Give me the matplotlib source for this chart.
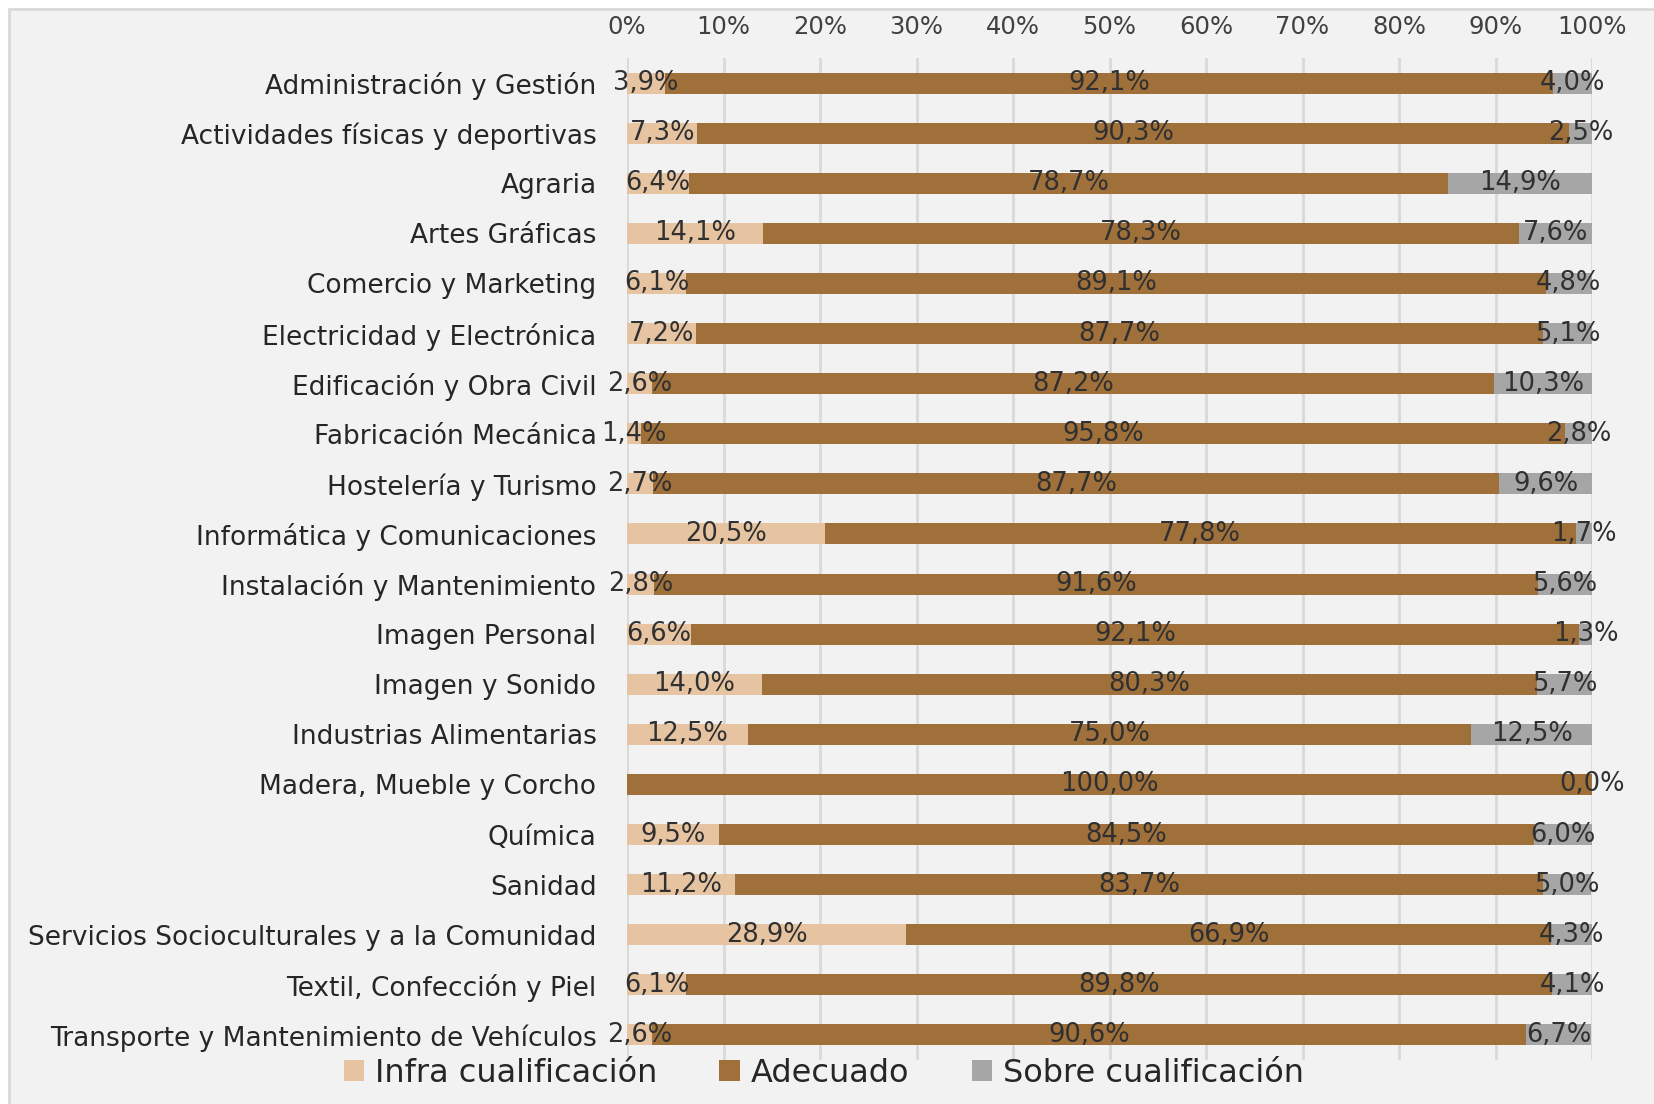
import matplotlib.pyplot as plt
from matplotlib.patches import Rectangle, Patch

familias = ["Administración y Gestión", "Actividades físicas y deportivas", "Agraria",
            "Artes Gráficas", "Comercio y Marketing", "Electricidad y Electrónica",
            "Edificación y Obra Civil", "Fabricación Mecánica", "Hostelería y Turismo",
            "Informática y Comunicaciones", "Instalación y Mantenimiento", "Imagen Personal",
            "Imagen y Sonido", "Industrias Alimentarias", "Madera, Mueble y Corcho",
            "Química", "Sanidad", "Servicios Socioculturales y a la Comunidad",
            "Textil, Confección y Piel", "Transporte y Mantenimiento de Vehículos"]
infra = [3.9, 7.3, 6.4, 14.1, 6.1, 7.2, 2.6, 1.4, 2.7, 20.5,
         2.8, 6.6, 14.0, 12.5, 0.0, 9.5, 11.2, 28.9, 6.1, 2.6]
adecuado = [92.1, 90.3, 78.7, 78.3, 89.1, 87.7, 87.2, 95.8, 87.7, 77.8,
            91.6, 92.1, 80.3, 75.0, 100.0, 84.5, 83.7, 66.9, 89.8, 90.6]
sobre = [4.0, 2.5, 14.9, 7.6, 4.8, 5.1, 10.3, 2.8, 9.6, 1.7,
         5.6, 1.3, 5.7, 12.5, 0.0, 6.0, 5.0, 4.3, 4.1, 6.7]
series = ["Infra cualificación", "Adecuado", "Sobre cualificación"]
colores = ["#E6C4A1", "#A0703A", "#A6A6A6"]
ticks = [0, 10, 20, 30, 40, 50, 60, 70, 80, 90, 100]

plt.rcParams['font.family'] = ['DejaVu Sans']

fig = plt.figure(figsize=(16.54, 11.04), dpi=100)
fig.patch.set_facecolor('white')
# chart area frame (Excel style)
fig.patches.append(Rectangle((9 / 1654, -0.05), 1.1, 1 - 9 / 1104 + 0.05,
                             transform=fig.transFigure, facecolor='#F2F2F2',
                             edgecolor='#D9D9D9', lw=2, zorder=-10))

ax = fig.add_axes([627 / 1654, 1 - 1060 / 1104, (1592 - 627) / 1654, (1060 - 58) / 1104])
ax.set_facecolor('none')

y = list(range(len(familias)))
fmt = lambda v: ("%.1f%%" % v).replace('.', ',')
lefts = [0] * len(familias)
for vals, col, name in zip([infra, adecuado, sobre], colores, series):
    vals_f = [v / 100 for v in vals]
    bars = ax.barh(y, vals_f, left=lefts, height=0.42, color=col, label=name, zorder=2)
    if name == "Infra cualificación":
        labs = [fmt(v) if v > 0 else "" for v in vals]
    else:
        labs = [fmt(v) for v in vals]
    ax.bar_label(bars, labels=labs, label_type='center', fontsize=18.5, color='#303030', zorder=3)
    lefts = [l + v for l, v in zip(lefts, vals_f)]

ax.set_xlim(0, 1)
ax.set_ylim(len(familias) - 0.5, -0.5)
ax.set_xticks([t / 100 for t in ticks])
ax.set_xticklabels(["%d%%" % t for t in ticks])
ax.xaxis.tick_top()
ax.tick_params(axis='x', length=0, pad=14, labelsize=17.5, labelcolor='#404040')
ax.set_yticks(y)
ax.set_yticklabels(familias)
ax.tick_params(axis='y', length=0, pad=22, labelsize=19, labelcolor='#262626')
ax.grid(axis='x', color='#D9D9D9', lw=2, zorder=1)
for s in ax.spines.values():
    s.set_visible(False)

handles = [Patch(facecolor=c, label=n) for c, n in zip(colores, series)]
fig.legend(handles=handles, loc='center', bbox_to_anchor=(0.498, 1 - 1073 / 1104), ncol=3,
           frameon=False, fontsize=23, handlelength=0.65, handleheight=0.65,
           handletextpad=0.33, columnspacing=1.95, labelcolor='#262626')

fig.savefig('out.png', dpi=100, facecolor=fig.get_facecolor())
